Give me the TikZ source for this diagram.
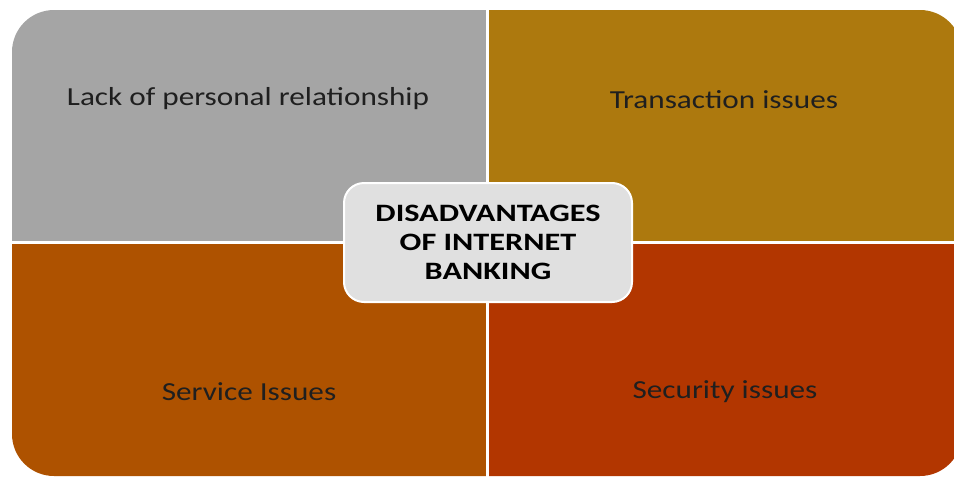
\documentclass[tikz,border=0pt]{standalone}
\usepackage{fontspec}
\setmainfont{Carlito}
\newfontfamily\qfont[FakeStretch=1.2]{Carlito}
\newfontfamily\cfont[FakeStretch=1.29]{Carlito}
\begin{document}
\begin{tikzpicture}[x=1pt,y=-1pt,
  quad/.style={font=\qfont\fontsize{26}{30}\selectfont, text=black!88, anchor=center},
  centerbox/.style={draw=white, line width=2pt, fill=black!12, rounded corners=20pt,
    minimum width=288pt, minimum height=119pt, align=center,
    font=\cfont\bfseries\fontsize{25}{29}\selectfont, text=black}]
\useasboundingbox (0,0) rectangle (954,477);
\definecolor{qgray}{HTML}{A5A5A5}
\definecolor{qgold}{HTML}{AD790E}
\definecolor{qorange}{HTML}{AE5200}
\definecolor{qred}{HTML}{B23600}
\begin{scope}
\clip[rounded corners=42pt] (12,10) rectangle (962,476);
\fill[qgray] (0,0) rectangle (487,242.5);
\fill[qgold] (487,0) rectangle (970,242.5);
\fill[qorange] (0,242.5) rectangle (487,480);
\fill[qred] (487,242.5) rectangle (970,480);
\end{scope}
\draw[white, line width=3pt] (487,0) -- (487,477);
\draw[white, line width=3pt] (0,242.5) -- (954,242.5);
\node[quad] (q1) at (248,99) {Lack of personal relationship};
\node[quad] (q2) at (724,100) {Transaction issues};
\node[quad] (q3) at (249,392) {Service Issues};
\node[quad] (q4) at (725,392) {Security issues};
\node[centerbox] (c) at (488,242.5) {DISADVANTAGES\\OF INTERNET\\BANKING};
\end{tikzpicture}
\end{document}
